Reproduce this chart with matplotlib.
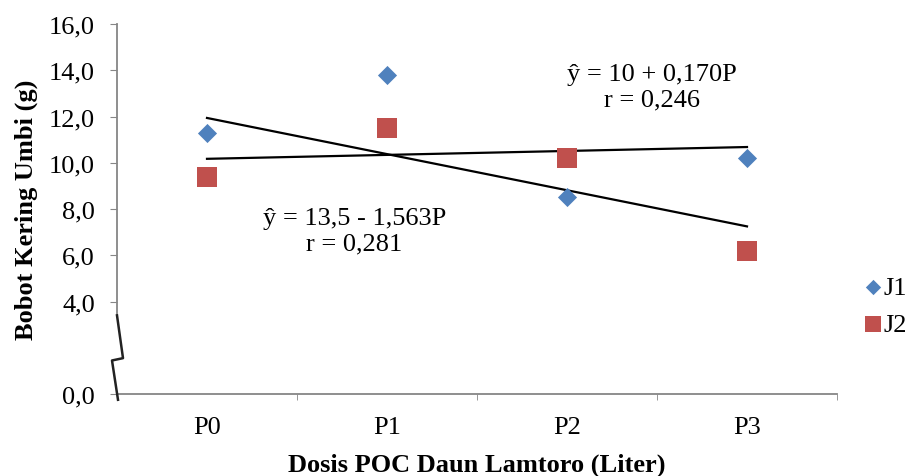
import matplotlib
matplotlib.use("Agg")
import matplotlib.pyplot as plt
from matplotlib.lines import Line2D
import numpy as np

categories = ["P0", "P1", "P2", "P3"]
j1_values = [11.3, 13.8, 8.5, 10.2]
j2_values = [9.4, 11.5, 10.2, 6.2]
# regression lines: intercept, slope (P = 1..4)
line_a = (13.5, -1.563)
line_b = (10.0, 0.170)
yticks = [0, 4, 6, 8, 10, 12, 14, 16]
ytick_labels = ["0,0", "4,0", "6,0", "8,0", "10,0", "12,0", "14,0", "16,0"]

plt.rcParams['font.family'] = ['Liberation Serif', 'DejaVu Serif']

FS = 19
fig = plt.figure(figsize=(9.11, 4.77), dpi=100)
ax = fig.add_axes([117/911, 1-395/477, (837-117)/911, (395-25)/477])

x = np.arange(1, len(categories) + 1)
gray = "#868686"

for a, b in (line_a, line_b):
    ax.plot(x[[0, -1]], a + b * x[[0, -1]], color="black", lw=1.6, zorder=2)

ax.scatter(x, j1_values, marker="D", s=95, color="#4F81BD", label="J1", zorder=3, linewidths=0)
ax.scatter(x, j2_values, marker="s", s=200, color="#C0504D", label="J2", zorder=3, linewidths=0)

ax.set_xlim(0.5, len(categories) + 0.5)
ax.set_ylim(0, 16)
ax.set_yticks(yticks)
ax.set_yticklabels(ytick_labels, fontsize=FS)
ax.set_xticks(x)
ax.set_xticklabels(categories, fontsize=FS)
ax.set_xticks(np.arange(0.5, len(categories) + 1), minor=True)
ax.tick_params(axis="x", which="major", length=0, pad=16)
ax.tick_params(axis="x", which="minor", length=4, color=gray, direction="out")
ax.tick_params(axis="y", length=5, color=gray, direction="out", pad=11)

for s in ("top", "right"):
    ax.spines[s].set_visible(False)
for s in ("left", "bottom"):
    ax.spines[s].set_color(gray)
    ax.spines[s].set_linewidth(1.3)
ax.spines["left"].set_bounds(3.4, 16)

# axis break glyph (decoration next to the left spine)
bx = [0, 6, -5, 1]
by = [3.4, 1.55, 1.45, -0.25]
fig.canvas.draw()
disp = [ax.transData.transform((0.5, yy)) for yy in by]
xs = [d[0] + dx for d, dx in zip(disp, bx)]
ys = [d[1] for d in disp]
fig.add_artist(Line2D(np.array(xs) / fig.bbox.width, np.array(ys) / fig.bbox.height,
                      transform=fig.transFigure, color="#222222", lw=1.8, clip_on=False))

ax.text(3.47, 13.3, "ŷ = 10 + 0,170P\nr = 0,246", ha="center", va="center",
        fontsize=FS, linespacing=1.2)
ax.text(1.82, 7.05, "ŷ = 13,5 - 1,563P\nr = 0,281", ha="center", va="center",
        fontsize=FS, linespacing=1.2)

ax.set_ylabel("Bobot Kering Umbi (g)", fontsize=FS, fontweight="bold", labelpad=8)
ax.set_xlabel("Dosis POC Daun Lamtoro (Liter)", fontsize=FS, fontweight="bold", labelpad=10)

ax.legend(loc="center left", bbox_to_anchor=(1.031, 0.238), frameon=False, fontsize=19,
          handletextpad=-0.1, labelspacing=0.5, borderaxespad=0, borderpad=0,
          handlelength=1.0, markerscale=0.8)

fig.savefig("out.png", dpi=100)
